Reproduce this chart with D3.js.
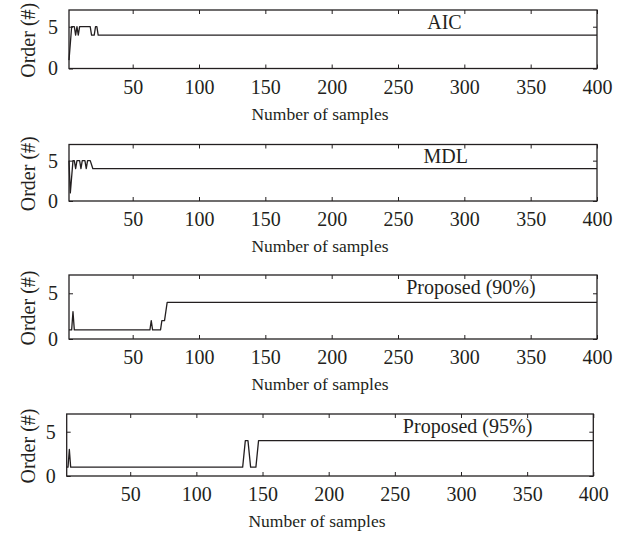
<!DOCTYPE html>
<html>
<head>
<meta charset="utf-8">
<script src="https://cdn.jsdelivr.net/npm/d3@7"></script>
<style>
  body { margin: 0; background: #fff; }
  svg { display: block; }
  text { font-family: "Liberation Serif", "DejaVu Serif", serif; fill: #231f20; }
</style>
</head>
<body>
<div id="chart"></div>
<script>
// Order estimates vs. number of samples, one polyline per panel (vertices)
const xTicks = [50, 100, 150, 200, 250, 300, 350, 400]
const yTicks = [0, 5]
const xLabel = "Number of samples"
const yLabel = "Order (#)"

const panelNames = ["AIC", "MDL", "Proposed (90%)", "Proposed (95%)"]

const aicSamples = [2, 4, 6, 7, 8, 9, 10, 18, 19, 21, 22, 23, 24, 400]
const aicOrders  = [1, 5, 5, 4, 5, 4, 5, 5, 4, 4, 5, 5, 4, 4]

const mdlSamples = [2, 3, 5, 6, 7, 8, 10, 11, 12, 14, 15, 16, 18, 20, 400]
const mdlOrders  = [5, 1, 5, 5, 4, 5, 5, 4, 5, 5, 4, 5, 5, 4, 4]

const p90Samples = [2, 4, 5, 6, 63, 64, 65, 71, 72, 74, 76, 400]
const p90Orders  = [1, 1, 3, 1, 1, 2, 1, 1, 2, 2, 4, 4]

const p95Samples = [2, 3, 4, 5, 135, 137, 139, 141, 145, 147, 400]
const p95Orders  = [1, 1, 3, 1, 1, 4, 4, 1, 1, 4, 4]

const xDomain = [2, 400]
const yDomain = [0, 7]

const series = [
  [aicSamples, aicOrders],
  [mdlSamples, mdlOrders],
  [p90Samples, p90Orders],
  [p95Samples, p95Orders]
]

// layout of each panel, in pixels
const boxes = [
  { left: 69, right: 597, top: 10, bottom: 68.5, labelAt: 285 },
  { left: 69, right: 597, top: 144.5, bottom: 201, labelAt: 286 },
  { left: 69, right: 597, top: 275, bottom: 339, labelAt: 305 },
  { left: 66.7, right: 593.3, top: 414, bottom: 476, labelAt: 305 }
]

const width = 625
const height = 541
const fontSize = 20
const titleSize = 17.5
const ink = "#231f20"

const svg = d3.select("#chart")
  .append("svg")
  .attr("width", width)
  .attr("height", height)
  .attr("viewBox", [0, 0, width, height])

boxes.forEach((box, i) => {
  const w = box.right - box.left
  const h = box.bottom - box.top
  const [samples, orders] = series[i]
  const points = samples.map((s, k) => ({ sample: s, order: orders[k] }))

  const x = d3.scaleLinear().domain(xDomain).range([0, w])
  const y = d3.scaleLinear().domain(yDomain).range([h, 0])

  const g = svg.append("g")
    .attr("transform", `translate(${box.left},${box.top})`)

  // Trace
  g.append("path")
    .datum(points)
    .attr("fill", "none")
    .attr("stroke", ink)
    .attr("stroke-width", 1.3)
    .attr("stroke-linejoin", "round")
    .attr("d", d3.line().x(d => x(d.sample)).y(d => y(d.order)))

  // Axes, ticks pointing inwards on all four sides
  g.append("g")
    .attr("transform", `translate(0,${h})`)
    .call(d3.axisBottom(x).tickValues(xTicks).tickFormat(d3.format("d")).tickSizeInner(-4).tickSizeOuter(0).tickPadding(11))
  g.append("g")
    .call(d3.axisTop(x).tickValues(xTicks).tickSizeInner(-4).tickSizeOuter(0).tickFormat(""))
  g.append("g")
    .call(d3.axisLeft(y).tickValues(yTicks).tickFormat(d3.format("d")).tickSizeInner(-4).tickSizeOuter(0).tickPadding(11))
  g.append("g")
    .attr("transform", `translate(${w},0)`)
    .call(d3.axisRight(y).tickValues(yTicks).tickSizeInner(-4).tickSizeOuter(0).tickFormat(""))

  g.selectAll(".domain").remove()
  g.selectAll(".tick line").attr("stroke", ink).attr("stroke-width", 1)
  g.selectAll(".tick text")
    .style("font-family", "\"Liberation Serif\", serif")
    .style("font-size", fontSize + "px")
    .attr("fill", ink)

  // Frame
  g.append("rect")
    .attr("width", w)
    .attr("height", h)
    .attr("fill", "none")
    .attr("stroke", ink)
    .attr("stroke-width", 1.3)

  // Panel name
  g.append("text")
    .attr("x", x(box.labelAt))
    .attr("y", 18.5)
    .attr("text-anchor", "middle")
    .style("font-size", fontSize + "px")
    .text(panelNames[i])

  // Axis titles
  g.append("text")
    .attr("x", w / 2 - 13)
    .attr("y", h + 51)
    .attr("text-anchor", "middle")
    .style("font-size", titleSize + "px")
    .text(xLabel)

  g.append("text")
    .attr("transform", `translate(${35 - box.left},${h / 2 + 1}) rotate(-90)`)
    .attr("text-anchor", "middle")
    .style("font-size", fontSize + "px")
    .text(yLabel)
})
</script>
</body>
</html>
